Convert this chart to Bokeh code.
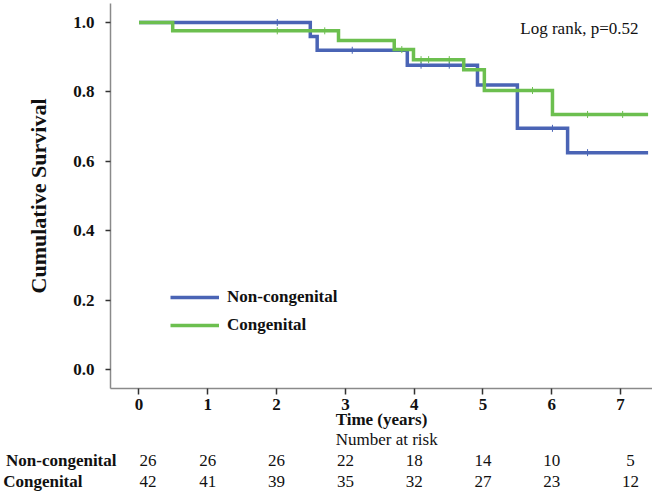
import math
from bokeh.plotting import figure
from bokeh.layouts import column
from bokeh.models import (Range1d, FixedTicker, PrintfTickFormatter, Label, LabelSet,
                          ColumnDataSource, Legend, LegendItem)
from bokeh.embed import file_html
from bokeh.resources import INLINE

# ---- data ----
noncong_time = [0.0, 2.49, 2.59, 3.90, 4.92, 5.50, 6.23, 7.40]
noncong_surv = [1.0, 0.960, 0.920, 0.877, 0.820, 0.695, 0.625, 0.625]
noncong_cens_t = [2.01, 3.10, 4.10, 4.51, 6.01, 6.52]
noncong_cens_s = [1.0, 0.920, 0.877, 0.877, 0.695, 0.625]

cong_time = [0.0, 0.49, 2.90, 3.71, 3.99, 4.72, 5.02, 6.01, 7.40]
cong_surv = [1.0, 0.976, 0.948, 0.922, 0.893, 0.864, 0.804, 0.735, 0.735]
cong_cens_t = [2.01, 2.70, 3.82, 4.10, 4.21, 4.51, 5.72, 6.52, 7.03]
cong_cens_s = [0.976, 0.976, 0.922, 0.893, 0.893, 0.893, 0.804, 0.735, 0.735]

groups = ["Non-congenital", "Congenital"]
risk_times = [0, 1, 2, 3, 4, 5, 6, 7]
risk_noncong = [26, 26, 26, 22, 18, 14, 10, 5]
risk_cong = [42, 41, 39, 35, 32, 27, 23, 12]
x_ticks = [0, 1, 2, 3, 4, 5, 6, 7]
y_ticks = [0.0, 0.2, 0.4, 0.6, 0.8, 1.0]

BLUE = "#4a64b5"
GREEN = "#6cbf4f"
FONT = "Liberation Serif"
INK = "#111111"

X0, X1 = -0.414, 7.464

p = figure(frame_width=542, frame_height=385, x_range=Range1d(X0, X1),
           y_range=Range1d(-0.0548, 1.0548), output_backend="svg",
           toolbar_location=None, min_border_left=110, min_border_right=0,
           min_border_top=3, min_border_bottom=0)
p.outline_line_color = None
p.xgrid.visible = False
p.ygrid.visible = False

r1 = p.step(noncong_time, noncong_surv, mode="after", line_width=3.5,
            line_color=BLUE, line_join="miter")
r2 = p.step(cong_time, cong_surv, mode="after", line_width=3.5,
            line_color=GREEN, line_join="miter")
p.scatter(noncong_cens_t, noncong_cens_s, marker="dash", angle=math.pi / 2,
          size=7, line_width=1, line_color=BLUE)
p.scatter(cong_cens_t, cong_cens_s, marker="dash", angle=math.pi / 2,
          size=7, line_width=1, line_color=GREEN)

for ax in (p.xaxis[0], p.yaxis[0]):
    ax.axis_line_color = "#8a8a8a"
    ax.axis_line_width = 1.5
    ax.major_tick_line_color = "#333333"
    ax.major_tick_line_width = 1.5
    ax.minor_tick_line_color = None
    ax.major_tick_in = 0
    ax.major_label_text_font = FONT
    ax.major_label_text_font_style = "bold"
    ax.major_label_text_font_size = "17px"
    ax.major_label_text_color = INK
    ax.axis_label_text_font = FONT
    ax.axis_label_text_font_style = "bold"
    ax.axis_label_text_color = INK

p.yaxis.ticker = FixedTicker(ticks=y_ticks)
p.yaxis.formatter = PrintfTickFormatter(format="%.1f")
p.yaxis.major_tick_out = 5
p.yaxis.major_label_standoff = 11
p.yaxis.axis_label = "Cumulative Survival"
p.yaxis.axis_label_text_font_size = "22px"
p.yaxis.axis_label_standoff = 19

p.xaxis.ticker = FixedTicker(ticks=x_ticks)
p.xaxis.major_tick_out = 6
p.xaxis.major_label_standoff = 4
p.xaxis.axis_label = "Time (years)"
p.xaxis.axis_label_text_font_size = "17px"
p.xaxis.axis_label_standoff = -3

p.add_layout(Label(x=7.26, y=0.983, text="Log rank, p=0.52", text_font=FONT,
                   text_font_size="17px", text_align="right",
                   text_baseline="middle", text_color=INK))

legend = Legend(items=[LegendItem(label=groups[0], renderers=[r1]),
                       LegendItem(label=groups[1], renderers=[r2])],
                location=(60, 53), padding=0, margin=0, spacing=8,
                glyph_width=49, glyph_height=20, label_height=20,
                label_standoff=8, border_line_color=None,
                background_fill_alpha=0, label_text_font=FONT,
                label_text_font_style="bold", label_text_font_size="17px",
                label_text_color=INK)
p.add_layout(legend)

# ---- number-at-risk table: second figure sharing the time axis ----
H2 = 65
row_y = [29, 50]
p2 = figure(width=652, height=H2, x_range=p.x_range, y_range=Range1d(H2, 0),
            output_backend="svg", toolbar_location=None,
            min_border_left=110, min_border_right=0, min_border_top=0,
            min_border_bottom=0, x_axis_location=None)
p2.grid.visible = False
p2.outline_line_color = None

yax = p2.yaxis[0]
yax.ticker = FixedTicker(ticks=row_y)
# pad the shorter group name so both names start at the same left edge
pad = "\u00a0" * 8
yax.major_label_overrides = {row_y[0]: groups[0], row_y[1]: groups[1] + pad}
yax.axis_line_color = None
yax.major_tick_line_color = None
yax.minor_tick_line_color = None
yax.major_tick_out = 0
yax.major_tick_in = 0
yax.major_label_standoff = -6
yax.major_label_text_font = FONT
yax.major_label_text_font_style = "bold"
yax.major_label_text_font_size = "17px"
yax.major_label_text_color = INK

p2.add_layout(Label(x=3.60, y=8, text="Number at risk", text_font=FONT,
                    text_font_size="17px", text_align="center",
                    text_baseline="middle", text_color=INK))

offsets = [9, 0, 0, 0, 0, 0, 0, 10]
risk_src = ColumnDataSource(dict(
    x=risk_times + risk_times,
    y=[row_y[0]] * len(risk_times) + [row_y[1]] * len(risk_times),
    t=[str(v) for v in risk_noncong] + [str(v) for v in risk_cong],
    dx=offsets + offsets,
))
p2.add_layout(LabelSet(x="x", y="y", text="t", x_offset="dx", source=risk_src,
                       text_font=FONT, text_font_size="17px", text_align="center",
                       text_baseline="middle", text_color=INK))

layout = column(p, p2, spacing=0)
open("out.html", "w").write(file_html(layout, INLINE))
